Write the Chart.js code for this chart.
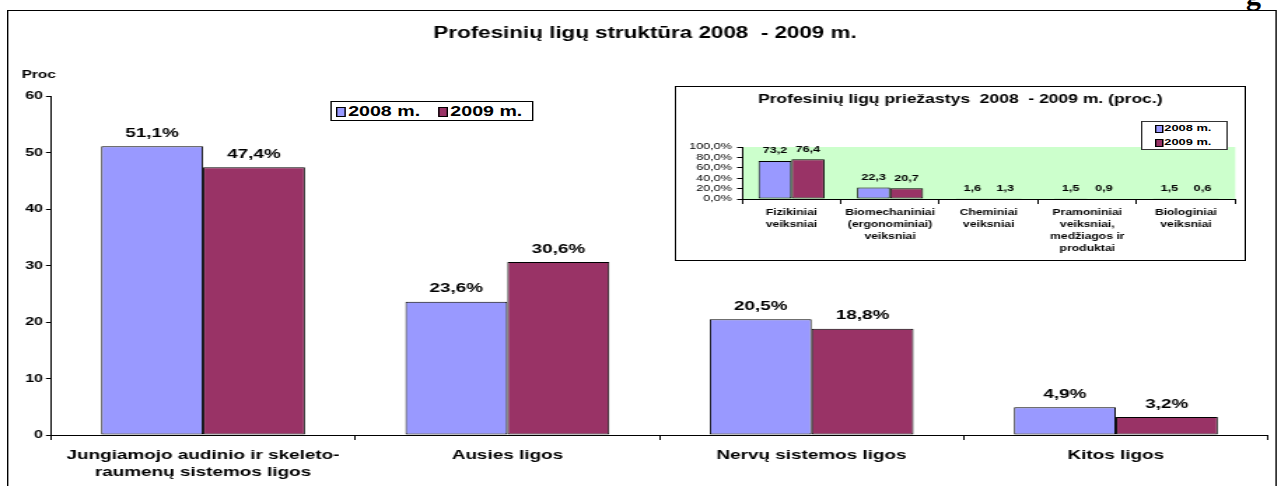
<!DOCTYPE html>
<html><head><meta charset="utf-8">
<script src="https://cdn.jsdelivr.net/npm/chart.js@4.4.1/dist/chart.umd.min.js"></script>
<style>
html,body{margin:0;padding:0;background:#fff;overflow:hidden;width:1283px;height:486px;position:relative;}
#wrap{position:absolute;left:0;top:0;width:917px;height:486px;transform:scaleX(1.4);transform-origin:0 0;}
#main{position:absolute;left:0;top:0;}
#frame{position:absolute;left:5px;top:10px;width:907px;height:500px;border:1px solid #000;box-sizing:border-box;}
#legend{position:absolute;left:235.7px;top:101px;width:145px;height:20px;border:1px solid #000;box-sizing:border-box;background:#fff;font:bold 14px "Liberation Sans",Arial,sans-serif;}
#insetBox{position:absolute;left:482.1px;top:86px;width:407.9px;height:175px;border:1px solid #000;box-sizing:border-box;background:#fff;}
#inset{position:absolute;left:0;top:0;}
#insetLegend{position:absolute;left:815px;top:121px;width:62.1px;height:29px;border:1px solid #333;box-sizing:border-box;background:#fff;font:bold 9.2px "Liberation Sans",Arial,sans-serif;}
.item{position:absolute;white-space:nowrap;color:#000;}
.sq{position:absolute;border:1px solid #000;box-sizing:border-box;}
#g{position:absolute;left:1246px;top:-20px;font:bold 30px "Liberation Serif","Times New Roman",serif;line-height:30px;color:#000;}
</style></head>
<body>
<div id="g">g</div>
<div id="wrap">
  <canvas id="main" width="917" height="486"></canvas>
  <div id="frame"></div>
  <div id="legend"></div>
  <div id="insetBox"><canvas id="inset" width="406" height="173"></canvas></div>
  <div id="insetLegend"></div>
</div>
<script>
// ---- data ----
const mainTitle = "Profesinių ligų struktūra 2008  - 2009 m.";
const yAxisTitle = "Proc";
const categories = [["Jungiamojo audinio ir skeleto-", "raumenų sistemos ligos"], "Ausies ligos", "Nervų sistemos ligos", "Kitos ligos"];
const seriesLabels = ["2008 m.", "2009 m."];
const values2008 = [51.1, 23.6, 20.5, 4.9];
const values2009 = [47.4, 30.6, 18.8, 3.2];
const yMin = 0, yMax = 60, yStep = 10;

const insetTitle = "Profesinių ligų priežastys  2008  - 2009 m. (proc.)";
const insetCategories = [["Fizikiniai", "veiksniai"], ["Biomechaniniai", "(ergonominiai)", "veiksniai"], ["Cheminiai", "veiksniai"], ["Pramoniniai", "veiksniai,", "medžiagos ir", "produktai"], ["Biologiniai", "veiksniai"]];
const inset2008 = [73.2, 22.3, 1.6, 1.5, 1.5];
const inset2009 = [76.4, 20.7, 1.3, 0.9, 0.6];
const insetYMin = 0, insetYMax = 100, insetYStep = 20;

const colors = ["#9999FF", "#993366"];
const FONT = '"Liberation Sans", Arial, sans-serif';

// ---- helpers ----
const fmt = v => v.toFixed(1).replace('.', ',');
Chart.defaults.font.family = FONT;
Chart.defaults.color = '#000';

const valueLabels = {
  id: 'valueLabels',
  afterDatasetsDraw(chart, args, opts) {
    const ctx = chart.ctx;
    ctx.save();
    ctx.font = `bold ${opts.size}px ${FONT}`;
    ctx.fillStyle = '#000';
    ctx.textAlign = 'center';
    ctx.textBaseline = 'middle';
    chart.data.datasets.forEach((ds, i) => {
      chart.getDatasetMeta(i).data.forEach((el, j) => {
        ctx.fillText(fmt(ds.data[j]) + opts.suffix, el.x, el.y - opts.offset);
      });
    });
    ctx.restore();
  }
};
const plotBg = {
  id: 'plotBg',
  beforeDraw(chart, args, opts) {
    if (!opts.color) return;
    const a = chart.chartArea, ctx = chart.ctx;
    ctx.save();
    ctx.fillStyle = opts.color;
    ctx.fillRect(a.left, a.top, a.right - a.left, a.bottom - a.top);
    ctx.restore();
  }
};
const axisCaption = {
  id: 'axisCaption',
  afterDraw(chart, args, opts) {
    if (!opts.text) return;
    const ctx = chart.ctx;
    ctx.save();
    ctx.font = `bold ${opts.size}px ${FONT}`;
    ctx.fillStyle = '#000';
    ctx.textAlign = 'left';
    ctx.textBaseline = 'middle';
    ctx.fillText(opts.text, opts.x, opts.y);
    ctx.restore();
  }
};
Chart.register(valueLabels, plotBg, axisCaption);

function datasets(a, b) {
  return [a, b].map((d, i) => ({
    label: seriesLabels[i], data: d, backgroundColor: colors[i],
    borderColor: '#000', borderWidth: 1, borderSkipped: false,
    categoryPercentage: 0.67, barPercentage: 1.0
  }));
}

// ---- main chart ----
new Chart(document.getElementById('main'), {
  type: 'bar',
  data: { labels: categories, datasets: datasets(values2008, values2009) },
  options: {
    responsive: false, animation: false,
    layout: { padding: { left: 15.7, right: 11.3, top: 0, bottom: 0 } },
    plugins: {
      legend: { display: false }, tooltip: { enabled: false },
      title: { display: true, text: mainTitle, color: '#000',
        font: { size: 16, weight: 'bold', lineHeight: 1.2 }, padding: { top: 24.4, bottom: 52.4 } },
      valueLabels: { size: 13.5, offset: 13, suffix: '%' },
      axisCaption: { text: yAxisTitle, size: 11, x: 15.5, y: 75 }
    },
    scales: {
      x: {
        offset: true,
        grid: { display: true, drawOnChartArea: false, tickLength: 5, color: '#000', offset: true },
        border: { display: true, color: '#000', width: 1 },
        ticks: { color: '#000', font: { size: 13.5, weight: 'bold', lineHeight: 1.26 }, padding: 7, maxRotation: 0, autoSkip: false },
        afterFit: s => { s.height = 51; }
      },
      y: {
        min: yMin, max: yMax,
        grid: { display: true, drawOnChartArea: false, tickLength: 3.6, color: '#000' },
        border: { display: true, color: '#000', width: 1 },
        ticks: { stepSize: yStep, color: '#000', font: { size: 11.5, weight: 'bold' }, padding: 2.1, autoSkip: false },
        afterFit: s => { s.width = 20.7; }
      }
    }
  }
});

// ---- legends (HTML) ----
(function () {
  const lg = document.getElementById('legend');
  const pos = [{ sq: 3.5, tx: 12 }, { sq: 76.5, tx: 85 }];
  seriesLabels.forEach((t, i) => {
    const s = document.createElement('div'); s.className = 'sq';
    s.style.cssText = `left:${pos[i].sq}px;top:4.5px;width:7.1px;height:10px;background:${colors[i]}`;
    lg.appendChild(s);
    const d = document.createElement('div'); d.className = 'item';
    d.style.cssText = `left:${pos[i].tx}px;top:0px;line-height:18px;`;
    d.textContent = t; lg.appendChild(d);
  });
  const il = document.getElementById('insetLegend');
  seriesLabels.forEach((t, i) => {
    const s = document.createElement('div'); s.className = 'sq';
    s.style.cssText = `left:8.5px;top:${2.5 + i * 14.4}px;width:6px;height:8px;background:${colors[i]}`;
    il.appendChild(s);
    const d = document.createElement('div'); d.className = 'item';
    d.style.cssText = `left:15.6px;top:${0 + i * 14.4}px;line-height:13px;`;
    d.textContent = t; il.appendChild(d);
  });
})();

// ---- inset chart ----
new Chart(document.getElementById('inset'), {
  type: 'bar',
  data: { labels: insetCategories, datasets: datasets(inset2008, inset2009) },
  options: {
    responsive: false, animation: false,
    layout: { padding: { left: 6.5, right: 6.7, top: 0, bottom: 0 } },
    plugins: {
      legend: { display: false }, tooltip: { enabled: false },
      title: { display: true, text: insetTitle, color: '#000',
        font: { size: 12.5, weight: 'bold', lineHeight: 1.2 }, padding: { top: 5.5, bottom: 39.5 } },
      valueLabels: { size: 9, offset: 10, suffix: '' },
      plotBg: { color: '#CCFFCC' }
    },
    scales: {
      x: {
        offset: true,
        grid: { display: true, drawOnChartArea: false, tickLength: 5, color: '#000', offset: true },
        border: { display: true, color: '#000', width: 1 },
        ticks: { color: '#000', font: { size: 8.7, weight: 'bold', lineHeight: 1.38 }, padding: 3, maxRotation: 0, autoSkip: false },
        afterFit: s => { s.height = 61; }
      },
      y: {
        min: insetYMin, max: insetYMax,
        grid: { display: true, drawOnChartArea: false, tickLength: 3.6, color: '#000' },
        border: { display: true, color: '#000', width: 1 },
        ticks: { stepSize: insetYStep, color: '#000', font: { size: 9, lineHeight: 1 }, padding: 3.8, autoSkip: false,
          callback: v => fmt(v) + '%' },
        afterFit: s => { s.width = 40.6; }
      }
    }
  }
});
</script>
</body></html>
